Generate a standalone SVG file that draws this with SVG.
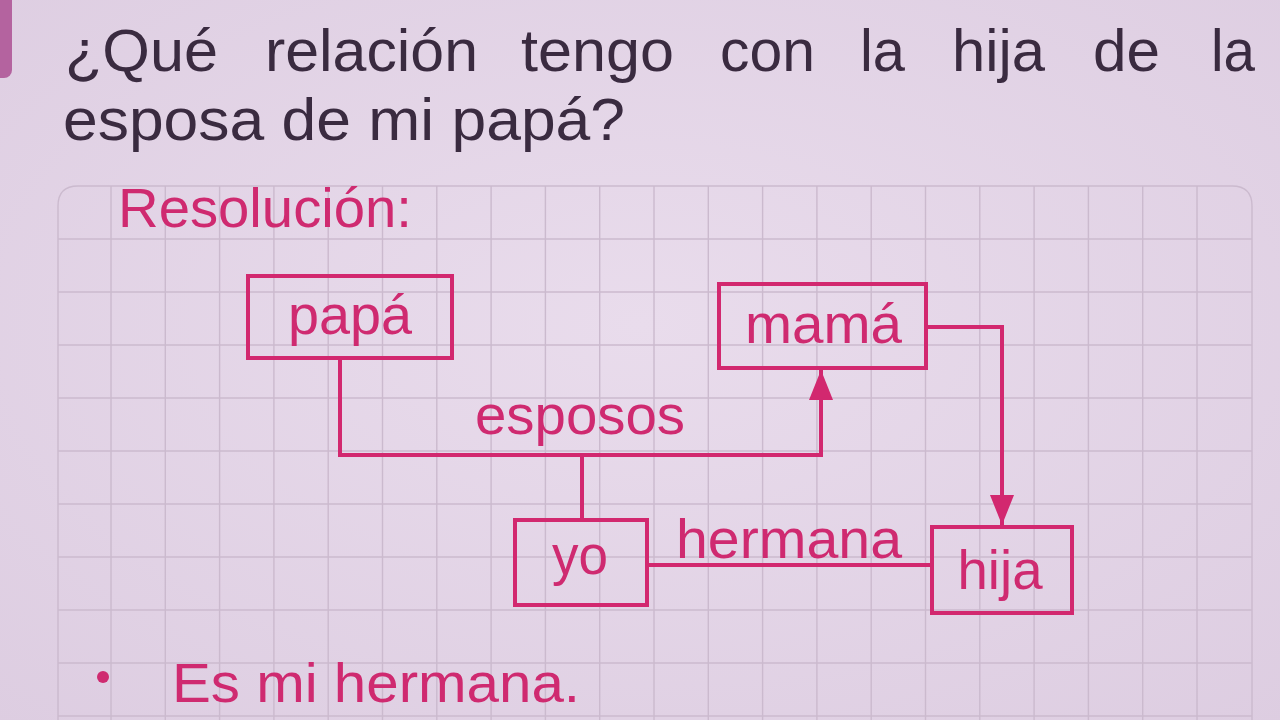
<svg xmlns="http://www.w3.org/2000/svg" width="1280" height="720" viewBox="0 0 1280 720">
<defs>
<marker id="arr" viewBox="0 0 30 24" refX="30" refY="12" markerWidth="30" markerHeight="24" markerUnits="userSpaceOnUse" orient="auto">
<path d="M0,0 L30,12 L0,24 z" fill="#d2286f"/>
</marker>
<radialGradient id="paper" cx="50%" cy="45%" r="75%">
<stop offset="0" stop-color="#e9dcec"/>
<stop offset="1" stop-color="#ddcde1"/>
</radialGradient>
</defs>
<style>
.title{font-family:"Liberation Sans",Arial,sans-serif;font-size:59px;fill:#3a2b40}
.pink{font-family:"Liberation Sans",Arial,sans-serif;font-size:55px;fill:#cf2a70}
.box{fill:none;stroke:#d2286f;stroke-width:4}
.con{fill:none;stroke:#d2286f;stroke-width:4}
.grid{stroke:#cbbace;stroke-width:1.4;fill:none}
</style>
<rect x="0" y="0" width="1280" height="720" fill="url(#paper)"/>
<rect x="-12" y="-10" width="24" height="88" rx="8" fill="#b4639f"/>
<g id="grid">
<path class="grid" d="M58,720 V206 Q58,186 78,186 H1232 Q1252,186 1252,206 V720"/>
<path class="grid" d="M58,239H1252 M58,292H1252 M58,345H1252 M58,398H1252 M58,451H1252 M58,504H1252 M58,557H1252 M58,610H1252 M58,663H1252 M58,716H1252"/>
<path class="grid" d="M111,186V720 M165.3,186V720 M219.6,186V720 M273.9,186V720 M328.2,186V720 M382.5,186V720 M436.8,186V720 M491.1,186V720 M545.4,186V720 M599.7,186V720 M654,186V720 M708.3,186V720 M762.6,186V720 M816.9,186V720 M871.2,186V720 M925.5,186V720 M979.8,186V720 M1034.1,186V720 M1088.4,186V720 M1142.7,186V720 M1197,186V720"/>
</g>
<g id="question">
<text class="title" x="65" y="71" textLength="153" lengthAdjust="spacingAndGlyphs">¿Qué</text>
<text class="title" x="265" y="71" textLength="213" lengthAdjust="spacingAndGlyphs">relación</text>
<text class="title" x="521" y="71" textLength="153" lengthAdjust="spacingAndGlyphs">tengo</text>
<text class="title" x="720" y="71" textLength="95" lengthAdjust="spacingAndGlyphs">con</text>
<text class="title" x="860" y="71" textLength="45" lengthAdjust="spacingAndGlyphs">la</text>
<text class="title" x="952" y="71" textLength="93" lengthAdjust="spacingAndGlyphs">hija</text>
<text class="title" x="1093" y="71" textLength="67" lengthAdjust="spacingAndGlyphs">de</text>
<text class="title" x="1211" y="71" textLength="44" lengthAdjust="spacingAndGlyphs">la</text>
<text class="title" x="63" y="140" textLength="562" lengthAdjust="spacingAndGlyphs">esposa de mi papá?</text>
</g>
<text id="resolucion" class="pink" x="118" y="227" textLength="294" lengthAdjust="spacingAndGlyphs">Resolución:</text>
<g id="connectors">
<path class="con" d="M340,358 V455 H821 V370" marker-end="url(#arr)"/>
<path class="con" d="M582,455 V520"/>
<path class="con" d="M926,327 H1002 V525" marker-end="url(#arr)"/>
<path class="con" d="M647,565 H932"/>
<text class="pink" x="475" y="434" textLength="210" lengthAdjust="spacingAndGlyphs">esposos</text>
<text class="pink" x="676" y="558" textLength="226" lengthAdjust="spacingAndGlyphs">hermana</text>
</g>
<g id="papa">
<rect class="box" x="248" y="276" width="204" height="82"/>
<text class="pink" x="350" y="334" text-anchor="middle" textLength="124" lengthAdjust="spacingAndGlyphs">papá</text>
</g>
<g id="mama">
<rect class="box" x="719" y="284" width="207" height="84"/>
<text class="pink" x="823.5" y="343" text-anchor="middle" textLength="157" lengthAdjust="spacingAndGlyphs">mamá</text>
</g>
<g id="yo">
<rect class="box" x="515" y="520" width="132" height="85"/>
<text class="pink" x="580" y="574" text-anchor="middle" textLength="56" lengthAdjust="spacingAndGlyphs">yo</text>
</g>
<g id="hija">
<rect class="box" x="932" y="527" width="140" height="86"/>
<text class="pink" x="1000" y="589" text-anchor="middle" textLength="85" lengthAdjust="spacingAndGlyphs">hija</text>
</g>
<g id="answer">
<circle cx="103" cy="677" r="6" fill="#cf2a70"/>
<text class="pink" x="172" y="702" textLength="408" lengthAdjust="spacingAndGlyphs">Es mi hermana.</text>
</g>
</svg>
